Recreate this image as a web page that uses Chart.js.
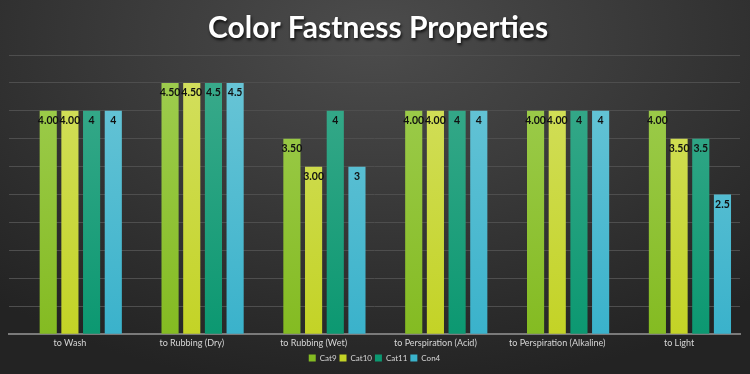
<!DOCTYPE html>
<html>
<head>
<meta charset="utf-8">
<script src="https://cdn.jsdelivr.net/npm/chart.js@4/dist/chart.umd.min.js"></script>
<style>
  html, body { margin: 0; padding: 0; background: #2b2b2b; }
  #wrap { width: 750px; height: 374px; position: relative;
    background: radial-gradient(ellipse 75% 95% at 50% 10%, #4c4c4c 0%, #3c3c3c 40%, #2d2d2d 75%, #232323 100%); }
  canvas { display: block; }
</style>
</head>
<body>
<div id="wrap"><canvas id="c" width="750" height="374"></canvas></div>
<script>
const titleText = 'Color Fastness Properties';
const categories = ['to Wash', 'to Rubbing (Dry)', 'to Rubbing (Wet)', 'to Perspiration (Acid)', 'to Perspiration (Alkaline)', 'to Light'];
const seriesNames = ['Cat9', 'Cat10', 'Cat11', 'Con4'];
const cat9  = [4.0, 4.5, 3.5, 4.0, 4.0, 4.0];
const cat10 = [4.0, 4.5, 3.0, 4.0, 4.0, 3.5];
const cat11 = [4, 4.5, 4, 4, 4, 3.5];
const con4  = [4, 4.5, 3, 4, 4, 2.5];
const labelDecimals = [2, 2, null, null];
const yMin = 0, yMax = 5, yStep = 0.5;

const colorsTop = ['#a0ce52', '#d4e062', '#3dab8d', '#6cc6d7'];
const colorsBot = ['#84bb22', '#c3d326', '#0c9871', '#3ab2cb'];

function grad(i) {
  return function(context) {
    const chart = context.chart;
    const area = chart.chartArea;
    if (!area) return colorsBot[i];
    const g = chart.ctx.createLinearGradient(0, area.top, 0, area.bottom);
    g.addColorStop(0, colorsTop[i]);
    g.addColorStop(1, colorsBot[i]);
    return g;
  };
}

const seriesData = [cat9, cat10, cat11, con4];
const datasets = [{ label: '', data: categories.map(() => null), backgroundColor: 'rgba(0,0,0,0)', isSpacer: true }];
seriesNames.forEach((n, i) => {
  datasets.push({ label: n, data: seriesData[i], backgroundColor: grad(i), legendColor: colorsBot[i], seriesIndex: i });
});

const titlePlugin = {
  id: 'customTitle',
  afterDraw(chart) {
    const ctx = chart.ctx;
    ctx.save();
    ctx.font = 'bold 30px Lato, "Open Sans", sans-serif';
    ctx.textAlign = 'center';
    ctx.textBaseline = 'middle';
    ctx.shadowColor = 'rgba(0,0,0,0.8)';
    ctx.shadowBlur = 3;
    ctx.shadowOffsetX = 1;
    ctx.shadowOffsetY = 2;
    ctx.fillStyle = '#ffffff';
    ctx.fillText(titleText, 378, 28);
    ctx.restore();
  }
};

const labelPlugin = {
  id: 'barLabels',
  afterDatasetsDraw(chart) {
    const ctx = chart.ctx;
    ctx.save();
    ctx.font = 'bold 10.5px Lato, "Open Sans", sans-serif';
    ctx.textAlign = 'center';
    ctx.textBaseline = 'middle';
    ctx.fillStyle = '#111111';
    chart.data.datasets.forEach((ds, di) => {
      if (ds.isSpacer) return;
      const meta = chart.getDatasetMeta(di);
      meta.data.forEach((el, j) => {
        const v = ds.data[j];
        if (v == null) return;
        const d = labelDecimals[ds.seriesIndex];
        const txt = d == null ? String(v) : v.toFixed(d);
        ctx.fillText(txt, el.x, el.y + 10);
      });
    });
    ctx.restore();
  }
};

new Chart(document.getElementById('c'), {
  type: 'bar',
  data: { labels: categories, datasets },
  options: {
    responsive: false,
    animation: false,
    devicePixelRatio: 1,
    layout: { padding: { top: 55, left: 9, right: 10, bottom: 2 } },
    datasets: { bar: { barPercentage: 0.79, categoryPercentage: 0.89 } },
    scales: {
      x: {
        grid: { display: false, drawTicks: false },
        border: { display: true, color: '#7a7a7a', width: 2 },
        ticks: { color: '#d6d6d6', font: { size: 9, family: 'Lato, "Open Sans", sans-serif' }, padding: 3, maxRotation: 0, autoSkip: false }
      },
      y: {
        min: yMin, max: yMax,
        ticks: { display: false, stepSize: yStep },
        grid: { color: '#4e4e4e', lineWidth: 1, drawTicks: false },
        border: { display: false }
      }
    },
    plugins: {
      title: { display: false },
      tooltip: { enabled: false },
      legend: {
        position: 'bottom',
        labels: {
          color: '#d6d6d6',
          boxWidth: 7, boxHeight: 7,
          padding: 3,
          font: { size: 8, family: 'Lato, "Open Sans", sans-serif' },
          filter: (item, data) => !data.datasets[item.datasetIndex].isSpacer,
          generateLabels: (chart) => chart.data.datasets.map((ds, i) => ({
            text: ds.label, fillStyle: ds.legendColor || 'rgba(0,0,0,0)', strokeStyle: 'rgba(0,0,0,0)', lineWidth: 0,
            fontColor: '#d6d6d6', hidden: false, datasetIndex: i
          }))
        }
      }
    }
  },
  plugins: [titlePlugin, labelPlugin]
});
</script>
</body>
</html>
